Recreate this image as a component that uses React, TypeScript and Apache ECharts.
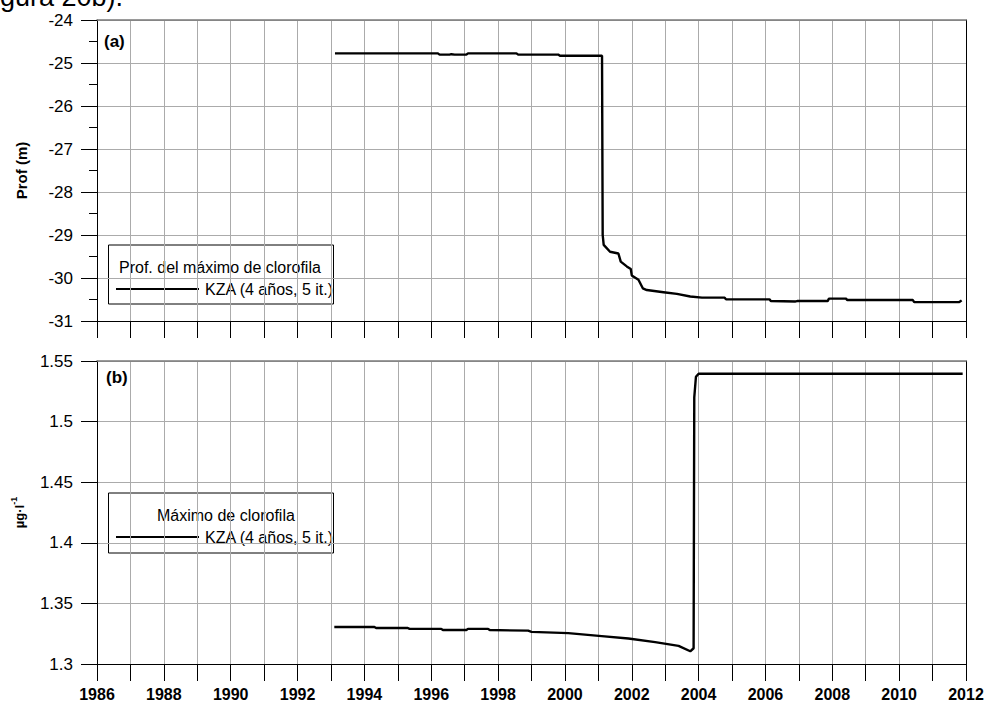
import { useEffect, useRef } from "react";
import * as echarts from "echarts";

const CHART_W = 987;
const CHART_H = 704;

const FONT = '"Liberation Sans", Arial, Helvetica, sans-serif';
const GRID_COLOR = "#ababab";
const FRAME_TOP_COLOR = "#7a7a7a";

// Shared time axis (years)
const YEAR_MIN = 1986;
const YEAR_MAX = 2012;
const YEAR_STEP = 2;

// Panel (a): depth of the chlorophyll maximum, KZA filter (4 years, 5 iterations)
const depthYears = [
  1993.12, 1996.2, 1996.25, 1996.55, 1996.6, 1996.7, 1997.05, 1997.1, 1998.55, 1998.6,
  1999.8, 1999.85, 2001.11, 2001.13, 2001.16, 2001.35, 2001.6, 2001.67, 2001.85, 2001.97,
  2002.0, 2002.2, 2002.33, 2002.45, 2002.95, 2003.35, 2003.75, 2004.1, 2004.78, 2004.82,
  2006.12, 2006.16, 2006.9, 2006.95, 2007.86, 2007.9, 2008.41, 2008.45, 2010.41, 2010.45,
  2011.8, 2011.87,
];
const depthValues = [
  -24.775, -24.775, -24.805, -24.805, -24.795, -24.805, -24.805, -24.775, -24.775, -24.805,
  -24.805, -24.83, -24.83, -29.0, -29.23, -29.39, -29.43, -29.62, -29.73, -29.79,
  -29.94, -30.04, -30.24, -30.28, -30.33, -30.37, -30.43, -30.457, -30.457, -30.497,
  -30.497, -30.536, -30.545, -30.536, -30.536, -30.48, -30.48, -30.513, -30.513, -30.56,
  -30.56, -30.52,
];
const DEPTH_MIN = -31;
const DEPTH_MAX = -24;
const DEPTH_STEP = 1;

// Panel (b): chlorophyll maximum (µg·l-1), KZA filter (4 years, 5 iterations)
const chlYears = [
  1993.1, 1994.3, 1994.35, 1995.3, 1995.35, 1996.3, 1996.35, 1997.05, 1997.1, 1997.7,
  1997.75, 1998.9, 1999.0, 2000.1, 2001.1, 2001.9, 2002.7, 2003.4, 2003.75, 2003.85,
  2003.87, 2003.92, 2004.0, 2011.9,
];
const chlValues = [
  1.3305, 1.3305, 1.3297, 1.3297, 1.329, 1.329, 1.328, 1.328, 1.329, 1.329,
  1.328, 1.3275, 1.3265, 1.3255, 1.323, 1.321, 1.318, 1.315, 1.3105, 1.313,
  1.52, 1.537, 1.5395, 1.5395,
];
const CHL_MIN = 1.3;
const CHL_MAX = 1.55;
const CHL_STEP = 0.05;

// Texts
const HEADER_TAIL = "gura 20b).";
const PANEL_A = "(a)";
const PANEL_B = "(b)";
const DEPTH_AXIS_NAME = "Prof (m)";
const LEGEND_A_TITLE = "Prof. del máximo de clorofila";
const LEGEND_B_TITLE = "Máximo de clorofila";
const SERIES_LABEL = "KZA (4 años, 5 it.)";

const zip = (xs: number[], ys: number[]) => xs.map((x, i) => [x, ys[i]]);

const timeAxis = (gridIndex: number, showLabels: boolean) => ({
  type: "value",
  gridIndex,
  position: "bottom",
  min: YEAR_MIN,
  max: YEAR_MAX,
  interval: YEAR_STEP,
  axisLine: { show: true, onZero: false, lineStyle: { color: "#000", width: 1 } },
  axisTick: { show: true, inside: false, length: 17, lineStyle: { color: "#000", width: 1 } },
  minorTick: { show: true, splitNumber: 2, length: 17, lineStyle: { color: "#000", width: 1 } },
  splitLine: { show: true, lineStyle: { color: GRID_COLOR, width: 1 } },
  minorSplitLine: { show: true, lineStyle: { color: GRID_COLOR, width: 1 } },
  axisLabel: {
    show: showLabels,
    margin: 22,
    fontSize: 16,
    fontWeight: "bold",
    color: "#000",
    fontFamily: FONT,
    showMinLabel: true,
    showMaxLabel: true,
    formatter: (v: number) => String(v),
  },
});

const topFrame = (gridIndex: number) => ({
  type: "value",
  gridIndex,
  position: "top",
  min: YEAR_MIN,
  max: YEAR_MAX,
  axisLine: { show: true, onZero: false, lineStyle: { color: FRAME_TOP_COLOR, width: 1.6 } },
  axisTick: { show: false },
  axisLabel: { show: false },
  splitLine: { show: false },
});

const rightFrame = (gridIndex: number, min: number, max: number) => ({
  type: "value",
  gridIndex,
  position: "right",
  min,
  max,
  axisLine: { show: true, onZero: false, lineStyle: { color: "#000", width: 1 } },
  axisTick: { show: false },
  axisLabel: { show: false },
  splitLine: { show: false },
});

const LEGEND_FONT = `16px ${FONT}`;

const legendBox = (top: number, height: number, title: string, titleX: number) => ({
  type: "group",
  z: 50,
  children: [
    {
      type: "rect",
      shape: { x: 108.5, y: top, width: 225, height },
      style: { fill: "#fff", stroke: "#000", lineWidth: 1 },
    },
    {
      type: "text",
      x: titleX,
      y: top + 22,
      style: { text: title, font: LEGEND_FONT, fill: "#000", verticalAlign: "middle" },
    },
    {
      type: "line",
      shape: { x1: 116, y1: top + 44, x2: 199, y2: top + 44 },
      style: { stroke: "#000", lineWidth: 2.2 },
    },
    {
      type: "text",
      x: 205,
      y: top + 44,
      style: { text: SERIES_LABEL, font: LEGEND_FONT, fill: "#000", verticalAlign: "middle" },
    },
  ],
});

const option = {
  animation: false,
  backgroundColor: "#fff",
  grid: [
    { left: 97, top: 20, width: 869, height: 301, containLabel: false },
    { left: 97, top: 361, width: 869, height: 303, containLabel: false },
  ],
  xAxis: [timeAxis(0, false), timeAxis(1, true), topFrame(0), topFrame(1)],
  yAxis: [
    {
      type: "value",
      gridIndex: 0,
      position: "left",
      min: DEPTH_MIN,
      max: DEPTH_MAX,
      interval: DEPTH_STEP,
      axisLine: { show: true, onZero: false, lineStyle: { color: "#000", width: 1 } },
      axisTick: { show: true, inside: false, length: 16, lineStyle: { color: "#000", width: 1 } },
      minorTick: { show: true, splitNumber: 2, length: 8, lineStyle: { color: "#000", width: 1 } },
      splitLine: { show: true, lineStyle: { color: GRID_COLOR, width: 1 } },
      axisLabel: { margin: 24, fontSize: 17, color: "#000", fontFamily: FONT },
      name: DEPTH_AXIS_NAME,
      nameLocation: "middle",
      nameGap: 68,
      nameTextStyle: { fontSize: 15, fontWeight: "bold", color: "#000", fontFamily: FONT },
    },
    {
      type: "value",
      gridIndex: 1,
      position: "left",
      min: CHL_MIN,
      max: CHL_MAX,
      interval: CHL_STEP,
      axisLine: { show: true, onZero: false, lineStyle: { color: "#000", width: 1 } },
      axisTick: { show: true, inside: false, length: 16, lineStyle: { color: "#000", width: 1 } },
      splitLine: { show: true, lineStyle: { color: GRID_COLOR, width: 1 } },
      axisLabel: { margin: 24, fontSize: 17, color: "#000", fontFamily: FONT },
      name: "{u|µg·l}{s|-1}",
      nameLocation: "middle",
      nameGap: 68,
      nameTextStyle: {
        color: "#000",
        fontFamily: FONT,
        rich: {
          u: { fontSize: 13, fontWeight: "bold", fontFamily: FONT, color: "#000", lineHeight: 20 },
          s: {
            fontSize: 9,
            fontWeight: "bold",
            fontFamily: FONT,
            color: "#000",
            lineHeight: 9,
            verticalAlign: "top",
          },
        },
      },
    },
    rightFrame(0, DEPTH_MIN, DEPTH_MAX),
    rightFrame(1, CHL_MIN, CHL_MAX),
  ],
  series: [
    {
      name: LEGEND_A_TITLE,
      type: "line",
      xAxisIndex: 0,
      yAxisIndex: 0,
      data: zip(depthYears, depthValues),
      showSymbol: false,
      symbol: "none",
      lineStyle: { color: "#000", width: 2.4 },
      z: 5,
    },
    {
      name: LEGEND_B_TITLE,
      type: "line",
      xAxisIndex: 1,
      yAxisIndex: 1,
      data: zip(chlYears, chlValues),
      showSymbol: false,
      symbol: "none",
      lineStyle: { color: "#000", width: 2.4 },
      z: 5,
    },
  ],
  graphic: [
    {
      type: "text",
      x: 0,
      y: 10,
      z: 50,
      style: { text: HEADER_TAIL, font: `27px ${FONT}`, fill: "#000", verticalAlign: "bottom" },
    },
    {
      type: "text",
      x: 104,
      y: 41,
      z: 50,
      style: { text: PANEL_A, font: `bold 17px ${FONT}`, fill: "#000", verticalAlign: "middle" },
    },
    {
      type: "text",
      x: 106,
      y: 377,
      z: 50,
      style: { text: PANEL_B, font: `bold 17px ${FONT}`, fill: "#000", verticalAlign: "middle" },
    },
    legendBox(245, 59, LEGEND_A_TITLE, 119),
    legendBox(493, 60, LEGEND_B_TITLE, 157),
  ],
};

export default function App() {
  const ref = useRef<HTMLDivElement>(null);

  useEffect(() => {
    if (!ref.current) return;
    const chart = echarts.init(ref.current, null, { renderer: "svg" });
    chart.setOption(option as any);
    return () => {
      chart.dispose();
    };
  }, []);

  return (
    <div
      ref={ref}
      style={{ position: "absolute", left: 0, top: 0, width: CHART_W, height: CHART_H }}
    />
  );
}
